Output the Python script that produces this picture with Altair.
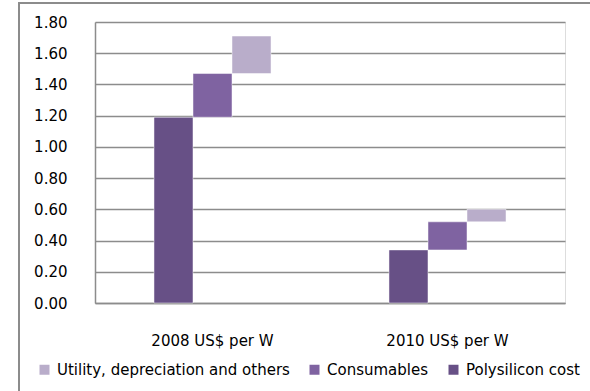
import altair as alt
import pandas as pd

categories = ["2008 US$ per W", "2010 US$ per W"]
series = ["Polysilicon cost", "Consumables", "Utility, depreciation and others"]
polysilicon = [1.19, 0.34]
consumables = [0.28, 0.18]
utility = [0.24, 0.08]
legend_order = ["Utility, depreciation and others", "Consumables", "Polysilicon cost"]
colors = ["#b9adca", "#7f63a1", "#675086"]
y_ticks = [0.0, 0.2, 0.4, 0.6, 0.8, 1.0, 1.2, 1.4, 1.6, 1.8]

rows = []
for i, cat in enumerate(categories):
    base = 0.0
    for s, vals in zip(series, [polysilicon, consumables, utility]):
        v = vals[i]
        rows.append({"category": cat, "series": s, "value": v, "start": base, "end": base + v})
        base += v
df = pd.DataFrame(rows)

FONT = "DejaVu Sans"
FS = 15

bars = alt.Chart(df).mark_bar(stroke="#ffffff", strokeWidth=0.8, strokeOpacity=0.6).encode(
    x=alt.X("category:N", sort=categories, title=None,
            scale=alt.Scale(paddingInner=0.502, paddingOuter=0.251),
            axis=alt.Axis(labelAngle=0, ticks=False, domain=True, domainColor="#8c8c8c",
                          domainWidth=1.5, labelPadding=30, labelFontSize=FS,
                          labelColor="#000000", labelFont=FONT)),
    xOffset=alt.XOffset("series:N", sort=series,
                        scale=alt.Scale(paddingInner=0, paddingOuter=0)),
    y=alt.Y("start:Q", title=None,
            scale=alt.Scale(domain=[0, 1.8], nice=False),
            axis=alt.Axis(values=y_ticks, format=".2f", ticks=False, domain=True,
                          domainColor="#8c8c8c", domainWidth=1.5,
                          grid=True, gridColor="#8c8c8c", gridWidth=1.5,
                          labelPadding=28, labelFontSize=FS, labelColor="#000000",
                          labelFont=FONT)),
    y2="end:Q",
    color=alt.Color("series:N", scale=alt.Scale(domain=legend_order, range=colors),
                    legend=alt.Legend(orient="none", direction="horizontal", title=None,
                                      legendX=-58, legendY=340, symbolType="square",
                                      symbolSize=100, symbolStrokeWidth=0,
                                      labelFontSize=FS, labelFont=FONT, labelColor="#000000",
                                      labelLimit=600, columnPadding=17, labelOffset=5)),
)

frame = alt.Chart(df).mark_rect(fill=None, stroke="#8c8c8c", strokeWidth=1.5).encode(
    x=alt.value(-76), x2=alt.value(600), y=alt.value(-19), y2=alt.value(420)
)

chart = alt.layer(frame, bars).properties(
    width=470, height=281,
    padding={"left": 95, "top": 22, "right": 25, "bottom": 88},
    autosize=alt.AutoSizeParams(type="none"),
).configure_view(stroke=None).configure(background="#ffffff")

chart.save("out.html", embed_options={"renderer": "svg", "actions": False})
